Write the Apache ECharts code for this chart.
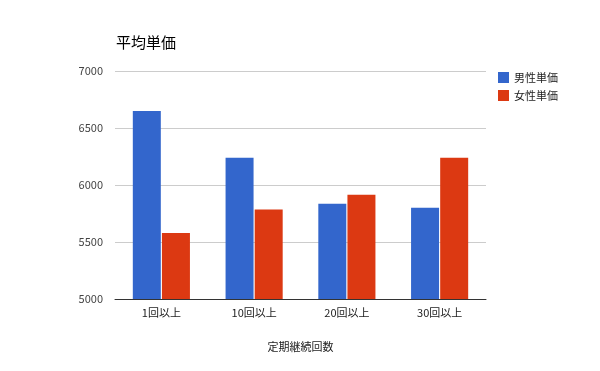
<!DOCTYPE html>
<html><head><meta charset="utf-8">
<script src="https://cdn.jsdelivr.net/npm/echarts@6/dist/echarts.min.js"></script>
<style>html,body{margin:0;padding:0;background:#fff}#c{width:600px;height:371px}</style>
</head><body><div id="c"></div>
<script>
const categories = ['1回以上', '10回以上', '20回以上', '30回以上'];
const maleValues = [6650, 6240, 5835, 5800];
const femaleValues = [5580, 5785, 5915, 6240];
const yTicks = [5000, 5500, 6000, 6500, 7000];
const FONT = '"Noto Sans CJK JP", "Noto Sans", sans-serif';
const chart = echarts.init(document.getElementById('c'));
chart.setOption({
  animation: false,
  title: { text: '平均単価', left: 111, top: 30, textStyle: { fontSize: 15, fontWeight: 'normal', color: '#000', fontFamily: FONT } },
  legend: {
    orient: 'vertical', left: 493, top: 67, itemWidth: 11, itemHeight: 11, itemGap: 7,
    icon: 'rect',
    textStyle: { fontSize: 11, color: '#222', fontFamily: FONT, lineHeight: 11 },
    data: ['男性単価', '女性単価']
  },
  grid: { left: 115, right: 114, top: 71, bottom: 72 },
  xAxis: {
    type: 'category', data: categories,
    name: '定期継続回数', nameLocation: 'middle', nameGap: 42,
    nameTextStyle: { fontSize: 11, color: '#222', fontFamily: FONT },
    axisLine: { lineStyle: { color: '#333', width: 1 } },
    axisTick: { show: false },
    axisLabel: { fontSize: 11, color: '#222', margin: 8, fontFamily: FONT }
  },
  yAxis: {
    type: 'value', min: yTicks[0], max: yTicks[yTicks.length - 1], interval: 500,
    axisLine: { show: false }, axisTick: { show: false },
    splitLine: { lineStyle: { color: '#ccc' } },
    axisLabel: { fontSize: 11, color: '#444', margin: 12, fontFamily: FONT, formatter: v => String(v) }
  },
  series: [
    { name: '男性単価', type: 'bar', data: maleValues, barWidth: 28, barGap: '4%', itemStyle: { color: '#3366cc' } },
    { name: '女性単価', type: 'bar', data: femaleValues, barWidth: 28, itemStyle: { color: '#dc3912' } }
  ]
});
</script></body></html>
